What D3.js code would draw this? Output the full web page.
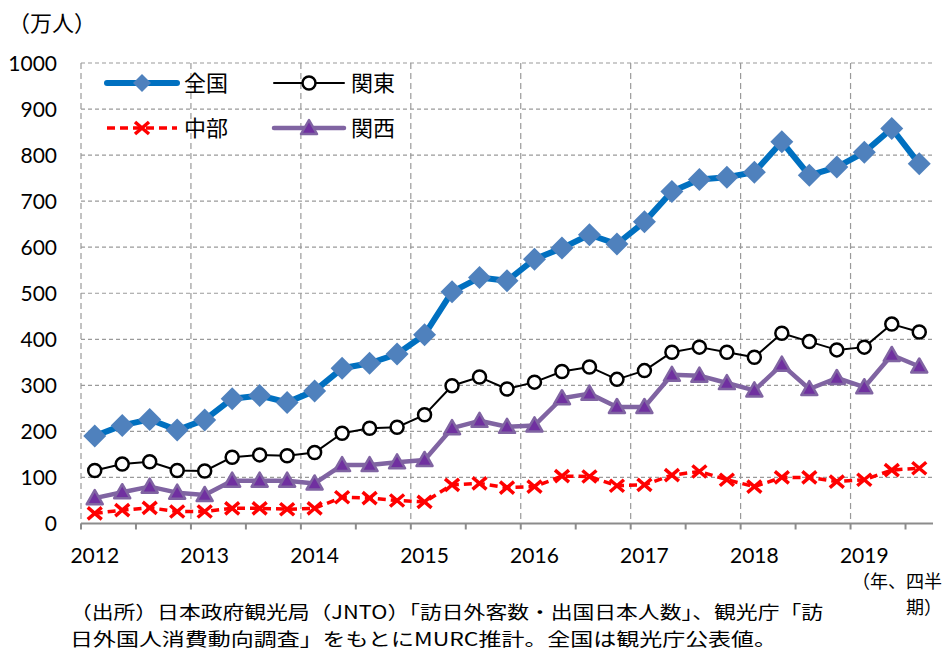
<!DOCTYPE html>
<html>
<head>
<meta charset="utf-8">
<script src="https://cdn.jsdelivr.net/npm/d3@7"></script>
<style>
body { margin: 0; background: #fff; }
text { font-family: Lato, "Noto Sans CJK JP", sans-serif; fill: #000; }
.jp { font-family: "Noto Sans CJK JP", sans-serif; }
</style>
</head>
<body>
<div class="chart"></div>
<script>
// quarterly, 2012Q1 .. 2019Q3 (万人)
var quarters = d3.range(31);
var yearLabels = ["2012","2013","2014","2015","2016","2017","2018","2019"];
var yTicks = [0,100,200,300,400,500,600,700,800,900,1000];

var zenkoku = [190,213,226,203,225,271,278,263,288,337,348,368,410,503,534,527,
	574,598,627,607,655,721,747,752,763,829,756,774,806,858,781];
var kanto = [115,129,134,115,114,144,149,147,154,196,207,209,236,299,318,292,
	307,330,340,313,332,372,383,372,361,413,395,377,383,433,416];
var chubu = [22,29,34,26,26,33,33,31,33,57,55,50,47,84,87,78,
	80,103,102,82,84,105,113,95,80,100,100,91,95,116,120];
var kansai = [55,68,80,67,62,93,93,93,87,127,127,133,138,207,223,210,
	213,272,282,253,253,323,321,305,289,345,292,316,296,366,341];

var series = [
	{name: "全国", values: zenkoku, color: "#0070C0", width: 6, marker: "diamond", fill: "#4F81BD", stroke: "#4F81BD"},
	{name: "関東", values: kanto, color: "#000", width: 2, marker: "circle", fill: "#fff", stroke: "#000"},
	{name: "中部", values: chubu, color: "#FF0000", width: 3.5, dash: "8,5", marker: "cross", fill: "none", stroke: "#FF0000"},
	{name: "関西", values: kansai, color: "#8064A2", width: 4.5, marker: "triangle", fill: "#7030A0", stroke: "#8064A2"}
];

var width = 943, height = 650;
var margin = {top: 63, right: 10, bottom: 126, left: 81};
var w = 933 - margin.left, h = 523.5 - margin.top;

var svg = d3.select(".chart").append("svg")
	.attr("width", width)
	.attr("height", height);

var g = svg.append("g").attr("transform", "translate(" + margin.left + "," + margin.top + ")");

var x = d3.scaleBand().domain(quarters).range([0, w]);
var y = d3.scaleLinear().domain([0, 1000]).range([h, 0]);

// horizontal grid
g.selectAll(".hgrid").data(yTicks.filter(d => d > 0)).enter().append("line")
	.attr("x1", 0).attr("x2", w)
	.attr("y1", d => y(d)).attr("y2", d => y(d))
	.style("stroke", "#9a9a9a").style("stroke-width", 1.2).style("stroke-dasharray", "4,3");

// vertical grid every year
g.selectAll(".vgrid").data(quarters.filter(d => d % 4 == 0)).enter().append("line")
	.attr("x1", d => x(d)).attr("x2", d => x(d))
	.attr("y1", 0).attr("y2", h)
	.style("stroke", "#9a9a9a").style("stroke-width", 1.2).style("stroke-dasharray", "6,4");

// x axis line + tick marks every 2 quarters
g.append("line").attr("x1", 0).attr("x2", w).attr("y1", h).attr("y2", h)
	.style("stroke", "#8c8c8c").style("stroke-width", 2);
g.selectAll(".xtick").data(quarters.filter(d => d % 2 == 0)).enter().append("line")
	.attr("x1", d => x(d)).attr("x2", d => x(d))
	.attr("y1", h).attr("y2", h + 6)
	.style("stroke", "#8c8c8c").style("stroke-width", 2);

// y labels
g.selectAll(".ylab").data(yTicks).enter().append("text")
	.attr("x", -24).attr("y", d => y(d))
	.attr("dy", "0.36em")
	.attr("text-anchor", "end")
	.style("font-size", "21px")
	.text(d => d);

// x labels
g.selectAll(".xlab").data(yearLabels).enter().append("text")
	.attr("x", (d, i) => x(i * 4) + x.bandwidth() / 2)
	.attr("y", h + 39)
	.attr("text-anchor", "middle")
	.style("font-size", "21px")
	.text(d => d);

function drawMarker(sel, s, size) {
	if (s.marker == "diamond") {
		sel.append("path").attr("d", "M0," + (-size) + "L" + size + ",0L0," + size + "L" + (-size) + ",0Z")
			.style("fill", s.fill);
	} else if (s.marker == "circle") {
		sel.append("circle").attr("r", 6.5)
			.style("fill", s.fill).style("stroke", s.stroke).style("stroke-width", 2.5);
	} else if (s.marker == "cross") {
		sel.append("path").attr("d", "M-7,-6L7,6M-7,6L7,-6")
			.style("fill", "none").style("stroke", s.stroke).style("stroke-width", 3.5);
	} else if (s.marker == "triangle") {
		sel.append("path").attr("d", "M0,-8L8,6L-8,6Z")
			.style("fill", s.fill).style("stroke", s.stroke).style("stroke-width", 2.5)
			.style("stroke-linejoin", "round");
	}
}

var line = d3.line()
	.x((d, i) => x(i) + x.bandwidth() / 2)
	.y(d => y(d));

// draw back to front: 中部, 関西, 関東, 全国
[2, 3, 1, 0].forEach(function(k) {
	var s = series[k];
	g.append("path").datum(s.values)
		.attr("d", line)
		.style("fill", "none")
		.style("stroke", s.color)
		.style("stroke-width", s.width)
		.style("stroke-dasharray", s.dash || null)
		.style("stroke-linejoin", "round");
	g.selectAll(".m" + k).data(s.values).enter().append("g")
		.attr("transform", (d, i) => "translate(" + (x(i) + x.bandwidth() / 2) + "," + y(d) + ")")
		.each(function() { drawMarker(d3.select(this), s, 11.5); });
});

// legend
var legPos = [[107, 83], [274, 83], [107, 128], [274, 128]];
series.forEach(function(s, i) {
	var lg = svg.append("g").attr("transform", "translate(" + legPos[i][0] + "," + legPos[i][1] + ")");
	lg.append("line").attr("x1", 0).attr("x2", 70)
		.style("stroke", s.color).style("stroke-width", s.width)
		.style("stroke-linecap", s.dash ? "butt" : "round")
		.style("stroke-dasharray", s.dash || null);
	var mg = lg.append("g").attr("transform", "translate(35,0)");
	drawMarker(mg, s, 9);
	lg.append("text").attr("class", "jp")
		.attr("x", 77).attr("dy", "0.36em")
		.style("font-size", "22px")
		.text(s.name);
});

// unit
svg.append("text").attr("class", "jp")
	.attr("x", 8).attr("y", 31)
	.style("font-size", "22px")
	.text("（万人）");

// x axis title (wrapped onto two lines)
var xt = svg.append("text").attr("class", "jp")
	.attr("text-anchor", "end")
	.style("font-size", "18px");
xt.append("tspan").attr("x", 942).attr("y", 588).text("（年、四半");
xt.append("tspan").attr("x", 942).attr("y", 614).text("期）");

// source note
var notes = ["（出所）日本政府観光局（JNTO）「訪日外客数・出国日本人数」、観光庁「訪",
	"日外国人消費動向調査」をもとにMURC推計。全国は観光庁公表値。"];
var noteLen = [753, 707];
var nt = svg.append("text").attr("class", "jp")
	.style("font-size", "18px");
notes.forEach(function(t, i) {
	nt.append("tspan")
		.attr("x", 70).attr("y", 619 + i * 27)
		.attr("textLength", noteLen[i]).attr("lengthAdjust", "spacingAndGlyphs")
		.text(t);
});
</script>
</body>
</html>
